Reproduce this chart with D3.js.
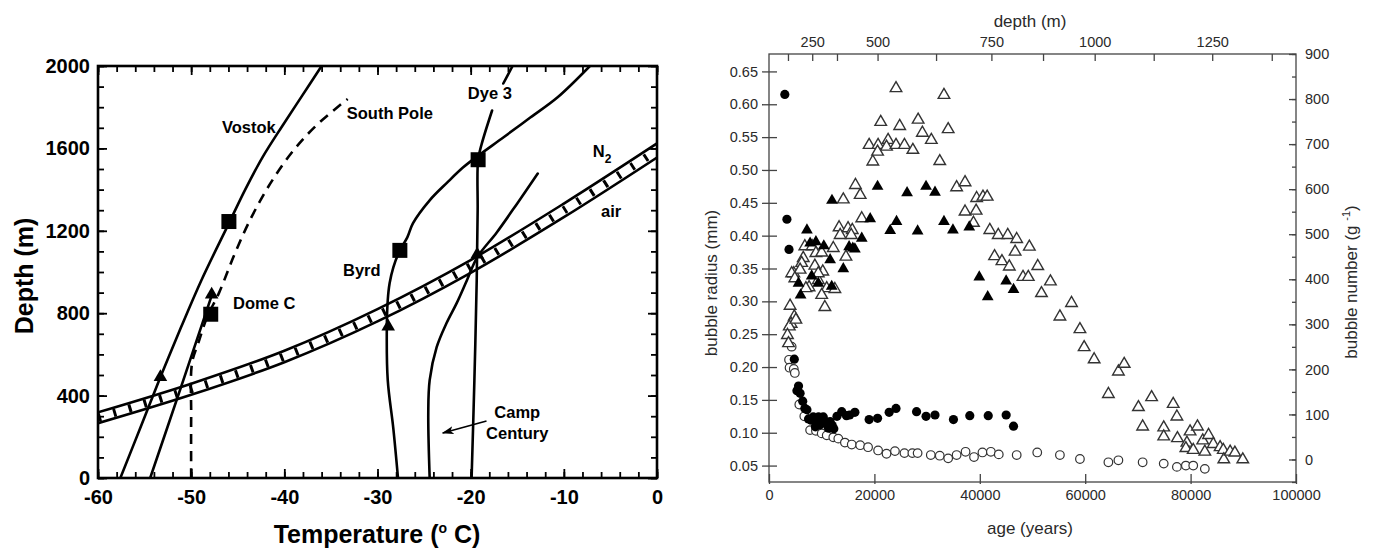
<!DOCTYPE html>
<html lang="en">
<head>
<meta charset="utf-8">
<title>Ice core temperature / bubble profiles</title>
<script src="https://d3js.org/d3.v7.min.js"></script>
<style>
    body { margin: 0; background: #fff; }
    svg { display: block; }
    .left text { font-family: "Liberation Sans", Arial, sans-serif; font-weight: bold; fill: #000; }
    .right text { font-family: "Liberation Sans", Arial, sans-serif; fill: #2a2a2a; }
</style>
</head>
<body>
<svg id="chart" width="1375" height="552"></svg>
<script>
    // ---------- left panel: temperature (C) vs depth (m) ----------
    const tempTicks = [-60, -50, -40, -30, -20, -10, 0];
    const depthTicks = [0, 400, 800, 1200, 1600, 2000];

    const vostok = [[-57.6, 0], [-55.4, 250], [-53.3, 490], [-51.1, 730], [-48.9, 960], [-45.9, 1241],
        [-44.2, 1400], [-42.3, 1560], [-40.2, 1710], [-38.1, 1855], [-36, 2000]];
    const southPole = [[-50, 0], [-50, 300], [-49.9, 560], [-49.2, 660], [-48.3, 780], [-47.0, 900],
        [-45.4, 1080], [-43.6, 1260], [-41.5, 1430], [-39.2, 1580], [-36.6, 1710], [-33.2, 1840]];
    const domeC = [[-54.4, 0], [-51.1, 440], [-47.8, 885]];
    const byrd = [[-27.8, 0], [-28.3, 240], [-28.9, 475], [-29.0, 730], [-28.9, 863], [-28.7, 945],
        [-28.3, 1023], [-27.6, 1105], [-26.8, 1168], [-26.2, 1236], [-24.4, 1348], [-22.5, 1435],
        [-20.8, 1508], [-19.3, 1561], [-16.5, 1653], [-13.6, 1750], [-10.7, 1847], [-7.2, 2000]];
    const dye3 = [[-19.9, 0], [-19.6, 475], [-19.35, 960], [-19.25, 1300], [-19.2, 1545], [-18.8, 1624],
        [-17.7, 1784], null, [-16.5, 1915], [-15.5, 2000]];
    const campCentury = [[-24.4, 0], [-24.55, 315], [-24.4, 475], [-23.65, 635], [-22.6, 751],
        [-21.5, 849], [-20.4, 960], [-19.3, 1071], [-17.2, 1192], [-15.0, 1333], [-12.8, 1478]];
    const n2Upper = [[-60, 319], [-50, 458], [-40, 618], [-30, 820], [-20, 1058], [-10, 1332], [0, 1624]];
    const airLower = [[-60, 266], [-50, 404], [-40, 562], [-30, 760], [-20, 996], [-10, 1266], [0, 1556]];

    const squares = [[-45.95, 1245], [-47.9, 795], [-27.6, 1105], [-19.2, 1545]];
    const triangles = [[-53.3, 490], [-47.8, 890], [-28.85, 735], [-19.3, 1085]];

    const siteLabels = [
        {text: 'Vostok', t: -46.7, d: 1675},
        {text: 'South Pole', t: -33.3, d: 1743},
        {text: 'Dye 3', t: -20.3, d: 1840},
        {text: 'air', t: -6.0, d: 1267},
        {text: 'Byrd', t: -33.7, d: 980},
        {text: 'Dome C', t: -45.5, d: 820}
    ];

    // ---------- right panel: bubble radius / number vs age ----------
    const ageTicks = [0, 20000, 40000, 60000, 80000, 100000];
    const radiusTicks = [0.05, 0.10, 0.15, 0.20, 0.25, 0.30, 0.35, 0.40, 0.45, 0.50, 0.55, 0.60, 0.65];
    const numberTicks = [0, 100, 200, 300, 400, 500, 600, 700, 800, 900];
    // depth scale on top: depth (m) and the age it corresponds to
    const topDepths = [125, 250, 375, 500, 625, 750, 875, 1000, 1125, 1250, 1375];
    const topDepthAges = [3600, 8200, 12900, 20600, 31700, 42200, 52000, 61800, 73000, 84100, 95400];
    const topDepthLabels = [250, 500, 750, 1000, 1250];

    // bubble radius (mm), filled circles
    const radiusFilled = [[3000, 0.615], [3400, 0.425], [3800, 0.379], [4800, 0.212], [5300, 0.164], [5600, 0.171],
        [5900, 0.160], [6400, 0.148], [6800, 0.137], [7200, 0.135], [7500, 0.121], [8000, 0.119], [8400, 0.124],
        [8800, 0.109], [9100, 0.121], [9400, 0.124], [9700, 0.112], [10000, 0.119], [10300, 0.124], [10700, 0.117],
        [11000, 0.113], [11300, 0.107], [11600, 0.117], [12000, 0.111], [12300, 0.106], [12900, 0.125],
        [13800, 0.132], [14700, 0.126], [15300, 0.127], [16300, 0.131], [19000, 0.120], [20600, 0.122],
        [22800, 0.131], [24100, 0.137], [28000, 0.132], [29800, 0.125], [31500, 0.127], [35000, 0.120],
        [38100, 0.126], [41600, 0.126], [45000, 0.127], [46400, 0.110]];
    // bubble radius (mm), open circles
    const radiusOpen = [[3800, 0.211], [4300, 0.231], [3900, 0.199], [4700, 0.197], [4900, 0.191], [5750, 0.143],
        [6700, 0.125], [7800, 0.104], [8900, 0.103], [10000, 0.099], [10950, 0.096], [12200, 0.093], [13150, 0.091],
        [14400, 0.085], [15700, 0.082], [17300, 0.081], [18800, 0.078], [20700, 0.073], [22300, 0.068],
        [23900, 0.072], [25700, 0.069], [27200, 0.069], [28200, 0.069], [30700, 0.066], [32400, 0.065],
        [34000, 0.061], [35600, 0.066], [37300, 0.071], [38900, 0.063], [40500, 0.070], [42100, 0.071],
        [43600, 0.067], [47000, 0.066], [50900, 0.070], [55200, 0.066], [59000, 0.060], [64400, 0.055],
        [66300, 0.058], [70900, 0.055], [74900, 0.053], [77400, 0.048], [79100, 0.050], [80500, 0.050],
        [82700, 0.045]];
    // bubble number (per g), open triangles
    const numberOpen = [[24100, 824], [33200, 809], [21200, 749], [24800, 740], [28300, 754], [29100, 725],
        [34000, 733], [30800, 709], [19000, 698], [20700, 698], [22600, 709], [22300, 694], [24100, 698],
        [25700, 698], [27300, 687], [20600, 683], [19700, 661], [32400, 662], [35600, 604], [37200, 615],
        [39400, 580], [40600, 583], [41400, 583], [16400, 609], [17300, 587], [14100, 577], [17600, 535],
        [37200, 550], [39300, 552], [38800, 525], [41900, 509], [43500, 498], [45300, 498], [47000, 489],
        [49400, 472], [42800, 451], [44200, 440], [45600, 428], [51000, 429], [46700, 461], [48200, 405],
        [49200, 405], [53400, 395], [51700, 369], [57400, 347], [55200, 317], [59000, 289], [59800, 249],
        [61700, 222], [66300, 195], [67400, 212], [64400, 145], [70100, 116], [70900, 73], [72600, 138],
        [76700, 123], [77400, 95], [74900, 71], [74900, 51], [77500, 47], [79300, 37], [79100, 25], [79900, 62],
        [81300, 73], [80500, 21], [82300, 42], [83400, 54], [82700, 17], [84300, 34], [85600, 27], [86200, 21],
        [86300, 0], [87500, 17], [88400, 15], [89900, 0],
        [13300, 515], [15000, 513], [15800, 509], [13500, 498], [15600, 498], [14600, 450], [6800, 473],
        [8200, 473], [8900, 458], [10000, 459], [12200, 469], [6500, 447], [6200, 436], [10200, 417], [4700, 413],
        [7600, 382], [9350, 398], [10950, 380], [12500, 378], [10000, 365], [10600, 338], [4000, 341], [4800, 317],
        [4200, 301], [3850, 295], [3500, 276], [3700, 258], [5100, 310], [7000, 380], [8700, 430], [5900, 421],
        [4300, 413], [4900, 402], [9350, 413]];
    // bubble number (per g), filled triangles
    const numberFilled = [[20600, 606], [26200, 592], [29800, 606], [31500, 593], [11950, 575], [19200, 534],
        [24200, 528], [23000, 508], [28200, 507], [33200, 528], [34900, 509], [38000, 516], [17600, 491],
        [15900, 469], [15200, 472], [16300, 467], [8900, 483], [7200, 509], [10400, 474], [7800, 480],
        [11600, 443], [14100, 423], [8100, 407], [9350, 391], [5600, 391], [6000, 365], [11900, 384],
        [39900, 405], [41500, 361], [45000, 396], [46400, 377]];

    const svg = d3.select('#chart');
    const defs = svg.append('defs');
    const plain = d => String(d);   // keep the ascii hyphen of the original

    // ================= LEFT PANEL =================
    const xT = d3.scaleLinear().domain([-60, 0]).range([98, 657]);
    const yD = d3.scaleLinear().domain([0, 2000]).range([478, 66]);
    const left = svg.append('g').attr('class', 'left');

    defs.append('clipPath').attr('id', 'clipL').append('rect')
        .attr('x', xT(-60)).attr('y', yD(2000))
        .attr('width', xT(0) - xT(-60)).attr('height', yD(0) - yD(2000));
    defs.append('marker').attr('id', 'arrow').attr('viewBox', '0 0 12 8')
        .attr('refX', 11).attr('refY', 4).attr('markerWidth', 12).attr('markerHeight', 8)
        .attr('markerUnits', 'userSpaceOnUse').attr('orient', 'auto')
        .append('path').attr('d', 'M0,0 L12,4 L0,8 L3,4 Z').attr('fill', '#000');

    const line = d3.line()
        .defined(d => d)
        .x(d => xT(d[0]))
        .y(d => yD(d[1]))
        .curve(d3.curveCatmullRom);

    const plotL = left.append('g').attr('clip-path', 'url(#clipL)');

    // N2 / air band: ladder between two lines
    const bandMid = n2Upper.map((d, i) => [d[0], (d[1] + airLower[i][1]) / 2]);
    plotL.append('path').attr('d', line(bandMid)).attr('fill', 'none')
        .attr('stroke', '#000').attr('stroke-width', 8).attr('stroke-dasharray', '3,13');
    [n2Upper, airLower].forEach(s => {
        plotL.append('path').attr('d', line(s)).attr('fill', 'none')
            .attr('stroke', '#000').attr('stroke-width', 2.6);
    });

    [vostok, domeC, byrd, dye3, campCentury].forEach(s => {
        plotL.append('path').attr('d', line(s)).attr('fill', 'none')
            .attr('stroke', '#000').attr('stroke-width', 2.6).attr('stroke-linecap', 'round');
    });
    plotL.append('path').attr('d', line(southPole)).attr('fill', 'none')
        .attr('stroke', '#000').attr('stroke-width', 2.6).attr('stroke-dasharray', '10,7');

    plotL.selectAll('rect.sq').data(squares).join('rect').attr('class', 'sq')
        .attr('x', d => xT(d[0]) - 7.5).attr('y', d => yD(d[1]) - 7.5)
        .attr('width', 15).attr('height', 15).attr('fill', '#000');
    plotL.selectAll('path.tri').data(triangles).join('path').attr('class', 'tri')
        .attr('transform', d => `translate(${xT(d[0])},${yD(d[1])})`)
        .attr('d', d3.symbol(d3.symbolTriangle, 80)).attr('fill', '#000');

    // frame + ticks
    left.append('rect')
        .attr('x', xT(-60)).attr('y', yD(2000))
        .attr('width', xT(0) - xT(-60)).attr('height', yD(0) - yD(2000))
        .attr('fill', 'none').attr('stroke', '#000').attr('stroke-width', 2.6);

    const minorT = d3.range(-60, 0.1, 2);
    const minorD = d3.range(0, 2001, 100);
    const tickG = (axis, transform) => left.append('g').attr('transform', transform).call(axis)
        .call(g => g.select('.domain').remove())
        .call(g => g.selectAll('.tick line').attr('stroke', '#000').attr('stroke-width', 1.8));

    tickG(d3.axisBottom(xT).tickValues(minorT).tickSize(-6).tickFormat(''), `translate(0,${yD(0)})`);
    tickG(d3.axisTop(xT).tickValues(minorT).tickSize(-6).tickFormat(''), `translate(0,${yD(2000)})`);
    tickG(d3.axisLeft(yD).tickValues(minorD).tickSize(-6).tickFormat(''), `translate(${xT(-60)},0)`);
    tickG(d3.axisRight(yD).tickValues(minorD).tickSize(-6).tickFormat(''), `translate(${xT(0)},0)`);
    tickG(d3.axisTop(xT).tickValues(tempTicks).tickSize(-9).tickFormat(''), `translate(0,${yD(2000)})`);
    tickG(d3.axisRight(yD).tickValues(depthTicks).tickSize(-9).tickFormat(''), `translate(${xT(0)},0)`);

    tickG(d3.axisBottom(xT).tickValues(tempTicks).tickSize(-9).tickPadding(12).tickFormat(plain),
        `translate(0,${yD(0)})`)
        .call(g => g.selectAll('text').attr('font-size', 20).attr('fill', '#000'));
    tickG(d3.axisLeft(yD).tickValues(depthTicks).tickSize(-9).tickPadding(8).tickFormat(plain),
        `translate(${xT(-60)},0)`)
        .call(g => g.selectAll('text').attr('font-size', 20).attr('fill', '#000'));
    left.selectAll('g').attr('font-family', null);

    // curve labels
    left.selectAll('text.site').data(siteLabels).join('text').attr('class', 'site')
        .attr('x', d => xT(d.t)).attr('y', d => yD(d.d))
        .attr('font-size', 16.5).text(d => d.text);
    const n2 = left.append('text').attr('x', xT(-6.9)).attr('y', yD(1558)).attr('font-size', 16.5).text('N');
    n2.append('tspan').attr('dy', 6).attr('font-size', 12).text('2');

    left.append('text').attr('x', xT(-15.0)).attr('y', yD(291)).attr('text-anchor', 'middle')
        .attr('font-size', 16.5).text('Camp');
    left.append('text').attr('x', xT(-15.0)).attr('y', yD(189)).attr('text-anchor', 'middle')
        .attr('font-size', 16.5).text('Century');
    left.append('line')
        .attr('x1', xT(-18.3)).attr('y1', yD(277)).attr('x2', xT(-23.0)).attr('y2', yD(218))
        .attr('stroke', '#000').attr('stroke-width', 1.6).attr('marker-end', 'url(#arrow)');

    // axis titles
    left.append('text').attr('transform', 'translate(33,276) rotate(-90)')
        .attr('text-anchor', 'middle').attr('font-size', 25).text('Depth (m)');
    const tt = left.append('text').attr('x', 377).attr('y', 543)
        .attr('text-anchor', 'middle').attr('font-size', 25).text('Temperature (');
    tt.append('tspan').attr('dy', -10).attr('font-size', 14).text('o');
    tt.append('tspan').attr('dy', 10).text(' C)');

    // ================= RIGHT PANEL =================
    const xA = d3.scaleLinear().domain([0, 100000]).range([769, 1296]);
    const yR = d3.scaleLinear().domain([0.025, 0.675]).range([482, 55]);
    const yN = d3.scaleLinear().domain([-50, 900]).range([482, 54]);
    const right = svg.append('g').attr('class', 'right');

    right.append('rect')
        .attr('x', xA(0)).attr('y', yN(900))
        .attr('width', xA(100000) - xA(0)).attr('height', yN(-50) - yN(900))
        .attr('fill', 'none').attr('stroke', '#444').attr('stroke-width', 1.3);

    const styleAxis = g => g
        .call(g => g.select('.domain').remove())
        .call(g => g.selectAll('.tick line').attr('stroke', '#444').attr('stroke-width', 1.3))
        .call(g => g.selectAll('text').attr('font-size', 14.5).attr('fill', '#2a2a2a'))
        .attr('font-family', null);

    right.append('g').attr('transform', `translate(${xA(0)},0)`)
        .call(d3.axisLeft(yR).tickValues(radiusTicks).tickSize(7).tickPadding(4).tickFormat(d3.format('.2f')))
        .call(styleAxis)
        .call(g => g.selectAll('.tick line').attr('x2', -7).attr('x1', 8));
    right.append('g').attr('transform', `translate(0,${yN(-50)})`)
        .call(d3.axisBottom(xA).tickValues(ageTicks).tickSize(2).tickPadding(6).tickFormat(plain))
        .call(styleAxis)
        .call(g => g.selectAll('.tick line').attr('y1', -8));
    right.append('g').attr('transform', `translate(${xA(100000)},0)`)
        .call(d3.axisRight(yN).tickValues(d3.range(-50, 901, 50)).tickSize(-4).tickFormat(''))
        .call(styleAxis);
    right.append('g').attr('transform', `translate(${xA(100000)},0)`)
        .call(d3.axisRight(yN).tickValues(numberTicks).tickSize(-7).tickPadding(9).tickFormat(plain))
        .call(styleAxis);
    right.append('g').attr('transform', `translate(0,${yN(900)})`)
        .call(d3.axisTop(xA).tickValues(topDepthAges).tickSize(-7).tickPadding(7)
            .tickFormat((d, i) => topDepthLabels.includes(topDepths[i]) ? topDepths[i] : ''))
        .call(styleAxis);

    // markers
    const plotR = right.append('g');
    plotR.selectAll('circle.ro').data(radiusOpen).join('circle').attr('class', 'ro')
        .attr('cx', d => xA(d[0])).attr('cy', d => yR(d[1])).attr('r', 4.3)
        .attr('fill', '#fff').attr('stroke', '#333').attr('stroke-width', 1.2);
    plotR.selectAll('path.no').data(numberOpen).join('path').attr('class', 'no')
        .attr('transform', d => `translate(${xA(d[0])},${yN(d[1])})`)
        .attr('d', d3.symbol(d3.symbolTriangle, 58))
        .attr('fill', '#fff').attr('stroke', '#333').attr('stroke-width', 1.4);
    plotR.selectAll('path.nf').data(numberFilled).join('path').attr('class', 'nf')
        .attr('transform', d => `translate(${xA(d[0])},${yN(d[1])})`)
        .attr('d', d3.symbol(d3.symbolTriangle, 60)).attr('fill', '#000');
    plotR.selectAll('circle.rf').data(radiusFilled).join('circle').attr('class', 'rf')
        .attr('cx', d => xA(d[0])).attr('cy', d => yR(d[1])).attr('r', 4.6).attr('fill', '#000');

    // titles
    right.append('text').attr('x', 1030).attr('y', 27).attr('text-anchor', 'middle')
        .attr('font-size', 17).text('depth (m)');
    right.append('text').attr('x', 1030).attr('y', 534).attr('text-anchor', 'middle')
        .attr('font-size', 17).text('age (years)');
    right.append('text').attr('transform', 'translate(717,283) rotate(-90)')
        .attr('text-anchor', 'middle').attr('font-size', 17).text('bubble radius (mm)');
    const bn = right.append('text').attr('transform', 'translate(1357,282) rotate(-90)')
        .attr('text-anchor', 'middle').attr('font-size', 17).text('bubble number (g ');
    bn.append('tspan').attr('dy', -7).attr('font-size', 11).text('-1');
    bn.append('tspan').attr('dy', 7).text(')');
</script>
</body>
</html>
